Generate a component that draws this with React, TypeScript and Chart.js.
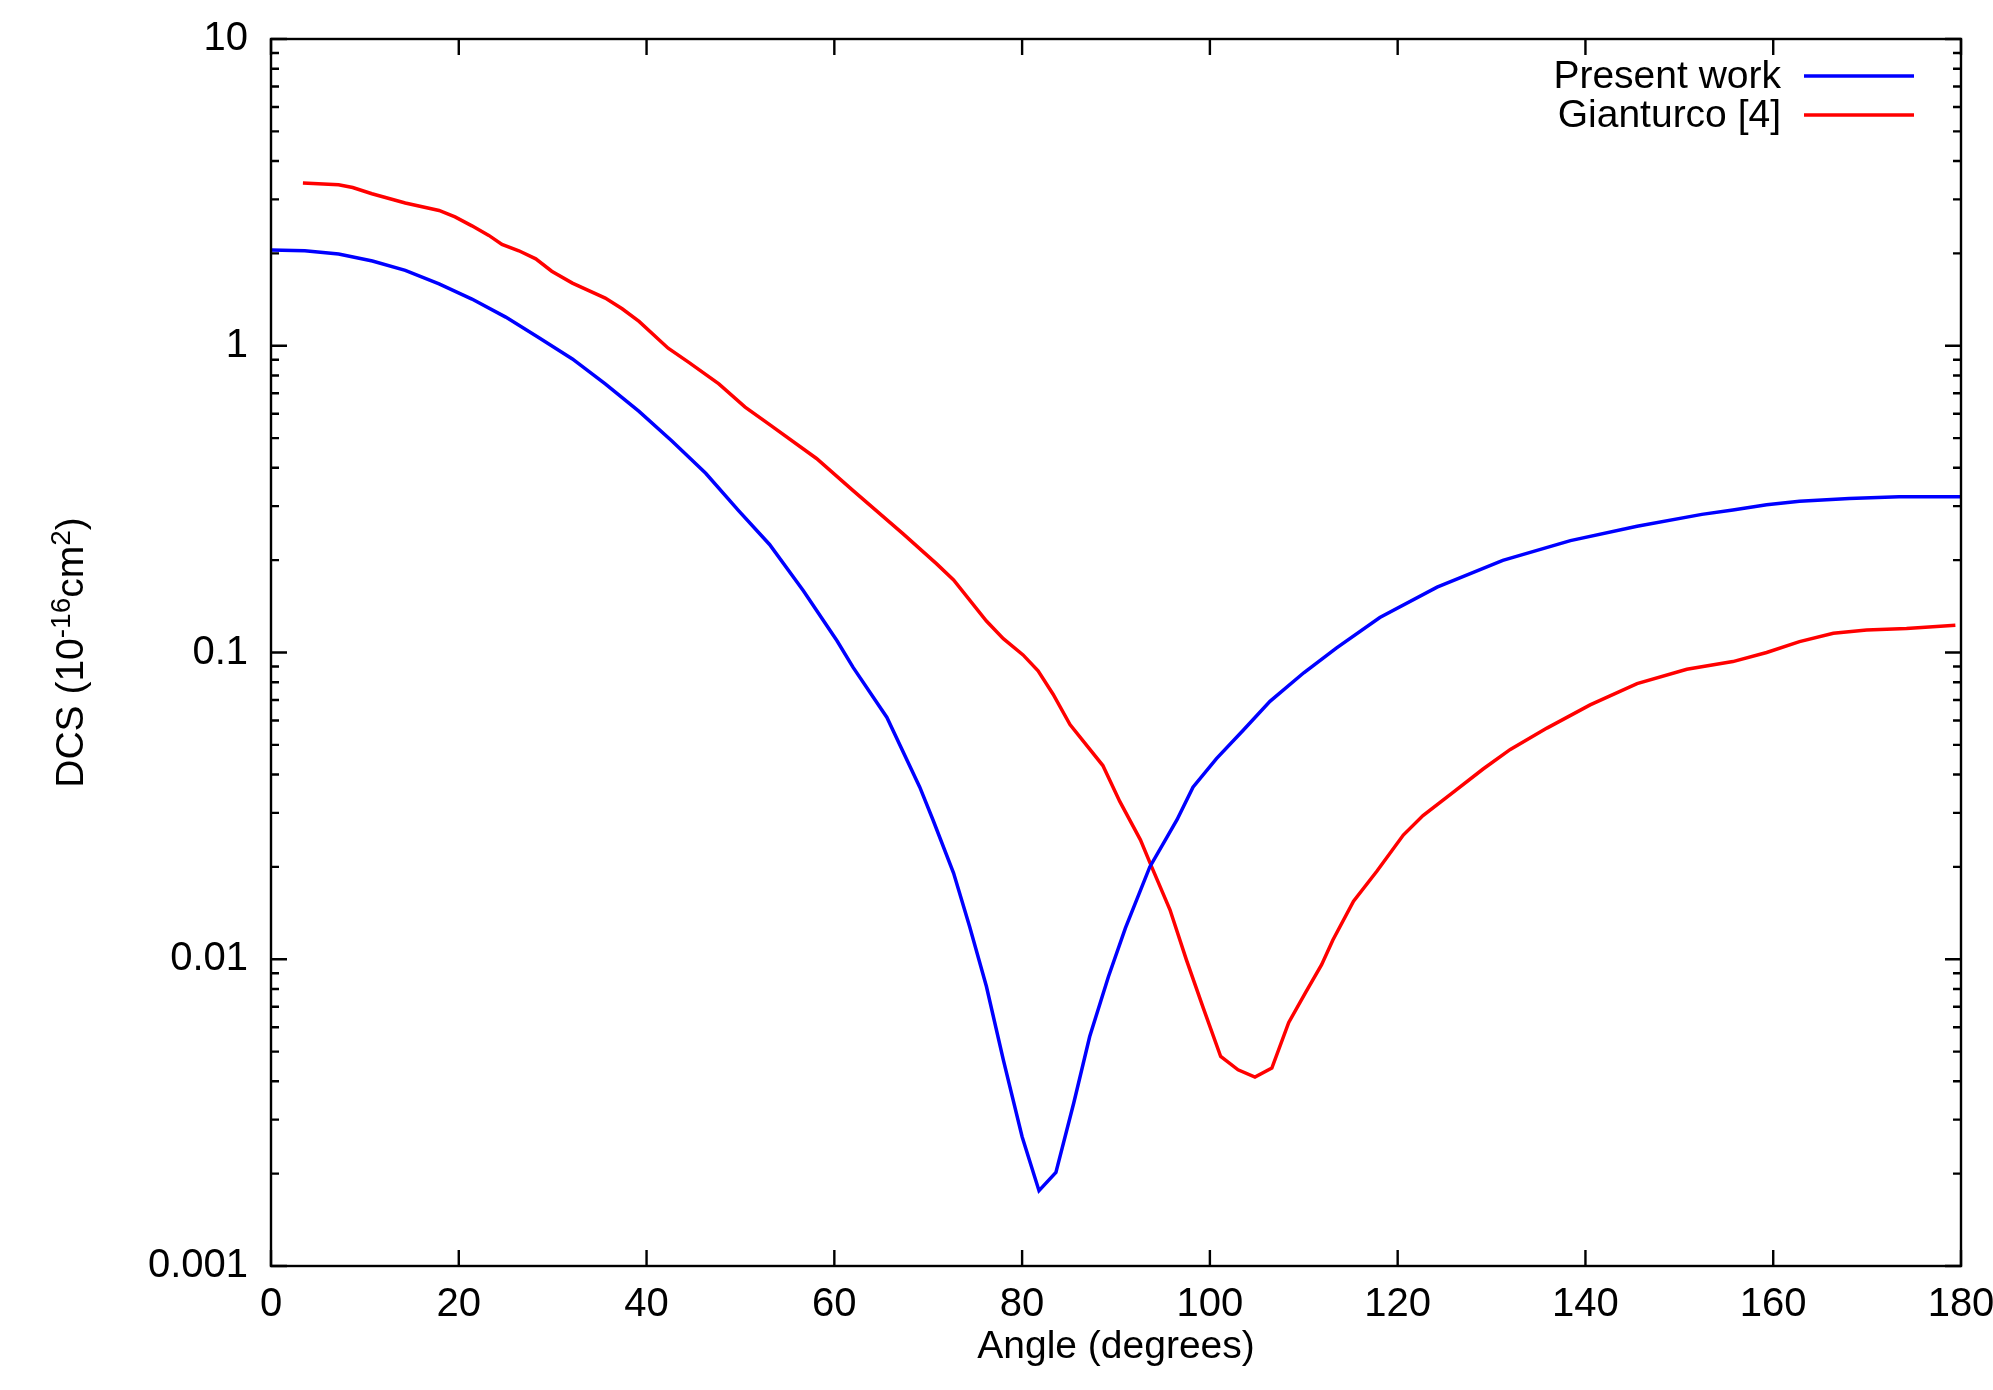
import React, { useEffect, useRef } from "react";
import { Chart, registerables } from "chart.js";

Chart.register(...registerables);

// ---- Data ----
const presentAngles = [
  0, 3.6, 7.2, 10.8, 14.3, 17.9, 21.4, 25.0, 28.5, 32.1, 35.6, 39.2, 42.7, 46.3,
  49.8, 53.1, 56.7, 60.3, 62.0, 65.6, 69.1, 70.5, 72.7, 74.4, 76.2, 78.0, 80.0,
  81.8, 83.6, 85.5, 87.2, 89.2, 91.0, 93.6, 95.4, 96.5, 98.2, 100.7, 103.6,
  106.4, 110.0, 113.5, 118.1, 124.2, 131.2, 138.4, 145.5, 152.4, 155.7, 159.3,
  162.8, 168.1, 173.4, 180,
];
const presentValues = [
  2.05, 2.04, 1.99, 1.89, 1.76, 1.59, 1.42, 1.24, 1.064, 0.906, 0.751, 0.611,
  0.489, 0.384, 0.29, 0.225, 0.159, 0.109, 0.0894, 0.0614, 0.0364, 0.0285,
  0.0191, 0.0128, 0.00815, 0.0047, 0.00264, 0.00176, 0.00202, 0.0034, 0.0056,
  0.00879, 0.01263, 0.02, 0.0249, 0.0285, 0.0364, 0.0451, 0.056, 0.0693,
  0.0859, 0.1036, 0.1301, 0.1634, 0.1998, 0.2316, 0.2578, 0.282, 0.2916, 0.303,
  0.311, 0.318, 0.322, 0.322,
];

const gianturcoAngles = [
  3.4, 7.2, 8.7, 10.75, 14.3, 17.9, 19.6, 21.4, 23.2, 24.6, 26.4, 28.2, 29.9,
  32.1, 35.6, 37.4, 39.2, 42.3, 44.5, 47.7, 50.5, 53.0, 58.1, 62.0, 67.3, 70.9,
  72.7, 76.2, 78.0, 80.1, 81.7, 83.3, 85.1, 88.6, 90.4, 92.6, 93.8, 95.75, 97.5,
  99.3, 101.15, 103.0, 104.8, 106.6, 108.4, 110.2, 111.9, 113.1, 115.3, 117.8,
  120.6, 122.7, 125.9, 129.1, 132.0, 135.9, 140.5, 145.5, 150.8, 155.7, 159.3,
  162.8, 166.4, 169.95, 174.2, 179.4,
];
const gianturcoValues = [
  3.39, 3.35, 3.28, 3.13, 2.92, 2.76, 2.63, 2.46, 2.29, 2.14, 2.04, 1.92, 1.75,
  1.6, 1.43, 1.32, 1.2, 0.982, 0.883, 0.751, 0.631, 0.556, 0.429, 0.337, 0.244,
  0.1945, 0.1724, 0.1266, 0.1109, 0.0982, 0.0871, 0.0731, 0.0582, 0.0428,
  0.0327, 0.0245, 0.02, 0.0145, 0.00995, 0.00693, 0.00482, 0.00436, 0.00413,
  0.00442, 0.00622, 0.0078, 0.0096, 0.01156, 0.01545, 0.0194, 0.0254, 0.0294,
  0.035, 0.0417, 0.0483, 0.0567, 0.0675, 0.0792, 0.0882, 0.0934, 0.1, 0.1085,
  0.1156, 0.1185, 0.1198, 0.1228,
];

const seriesLabels = ["Present work", "Gianturco [4]"];
const seriesColors = ["#0000ff", "#ff0000"];

const xTickValues = [0, 20, 40, 60, 80, 100, 120, 140, 160, 180];
const yTickValues = [0.001, 0.01, 0.1, 1, 10];
const xTitle = "Angle (degrees)";
const yTitleParts = [
  { text: "DCS (10", sup: false },
  { text: "-16", sup: true },
  { text: "cm", sup: false },
  { text: "2", sup: true },
  { text: ")", sup: false },
];

const FONT = "'Liberation Sans', Arial, Helvetica, sans-serif";
const TICK_FS = 40;
const LEGEND_FS = 39;
const TITLE_FS = 39;
const SUP_FS = 28;

const framePlugin = {
  id: "frameTicks",
  afterDatasetsDraw(chart: any) {
    const { ctx, chartArea, scales } = chart;
    const { left, right, top, bottom } = chartArea;
    const x = scales.x;
    const y = scales.y;
    ctx.save();
    ctx.strokeStyle = "#000";
    ctx.lineWidth = 2.4;
    ctx.beginPath();
    for (const v of xTickValues) {
      const px = x.getPixelForValue(v);
      ctx.moveTo(px, bottom);
      ctx.lineTo(px, bottom - 16);
      ctx.moveTo(px, top);
      ctx.lineTo(px, top + 16);
    }
    for (let i = 0; i < yTickValues.length; i++) {
      const d = yTickValues[i];
      const py = y.getPixelForValue(d);
      ctx.moveTo(left, py);
      ctx.lineTo(left + 16, py);
      ctx.moveTo(right, py);
      ctx.lineTo(right - 16, py);
      if (i < yTickValues.length - 1) {
        for (let k = 2; k <= 9; k++) {
          const pm = y.getPixelForValue(d * k);
          ctx.moveTo(left, pm);
          ctx.lineTo(left + 8, pm);
          ctx.moveTo(right, pm);
          ctx.lineTo(right - 8, pm);
        }
      }
    }
    ctx.stroke();
    ctx.strokeRect(left, top, right - left, bottom - top);
    ctx.restore();
  },
  afterDraw(chart: any) {
    const { ctx, chartArea } = chart;
    const { right, top, bottom } = chartArea;
    ctx.save();
    // legend
    ctx.font = `${LEGEND_FS}px ${FONT}`;
    ctx.textAlign = "right";
    ctx.textBaseline = "middle";
    chart.data.datasets.forEach((ds: any, i: number) => {
      const ly = top + 37 + i * 39;
      ctx.fillStyle = "#000";
      ctx.fillText(ds.label, right - 180, ly + 1);
      ctx.strokeStyle = ds.borderColor;
      ctx.lineWidth = 3.5;
      ctx.beginPath();
      ctx.moveTo(right - 157, ly);
      ctx.lineTo(right - 47, ly);
      ctx.stroke();
    });
    // y axis title with superscripts
    const cy = (top + bottom) / 2;
    const bx = 83;
    let total = 0;
    for (const p of yTitleParts) {
      ctx.font = `${p.sup ? SUP_FS : TITLE_FS}px ${FONT}`;
      total += ctx.measureText(p.text).width;
    }
    ctx.translate(bx, cy);
    ctx.rotate(-Math.PI / 2);
    ctx.textAlign = "left";
    ctx.textBaseline = "alphabetic";
    ctx.fillStyle = "#000";
    let cx = -total / 2;
    for (const p of yTitleParts) {
      ctx.font = `${p.sup ? SUP_FS : TITLE_FS}px ${FONT}`;
      ctx.fillText(p.text, cx, p.sup ? -13 : 0);
      cx += ctx.measureText(p.text).width;
    }
    ctx.restore();
  },
};

export default function App() {
  const canvasRef = useRef<HTMLCanvasElement | null>(null);

  useEffect(() => {
    const canvas = canvasRef.current;
    if (!canvas) return;
    const chart = new Chart(canvas, {
      type: "line",
      data: {
        datasets: [
          {
            label: seriesLabels[0],
            data: presentAngles.map((a, i) => ({ x: a, y: presentValues[i] })),
            borderColor: seriesColors[0],
            backgroundColor: seriesColors[0],
            borderWidth: 3.5,
            pointRadius: 0,
            tension: 0,
            fill: false,
          },
          {
            label: seriesLabels[1],
            data: gianturcoAngles.map((a, i) => ({ x: a, y: gianturcoValues[i] })),
            borderColor: seriesColors[1],
            backgroundColor: seriesColors[1],
            borderWidth: 3.5,
            pointRadius: 0,
            tension: 0,
            fill: false,
          },
        ],
      },
      options: {
        animation: false,
        responsive: false,
        devicePixelRatio: 1,
        events: [],
        layout: { padding: { left: 0, top: 39, right: 32, bottom: 0 } },
        plugins: {
          legend: { display: false },
          tooltip: { enabled: false },
          title: { display: false },
        },
        scales: {
          x: {
            type: "linear",
            min: 0,
            max: 180,
            grid: { display: false, drawTicks: false, tickLength: 0 },
            border: { display: false },
            afterBuildTicks: (scale: any) => {
              scale.ticks = xTickValues.map((v) => ({ value: v }));
            },
            afterFit: (scale: any) => {
              scale.height = 124;
              scale.paddingLeft = 0;
              scale.paddingRight = 0;
            },
            ticks: {
              color: "#000",
              font: { family: FONT, size: TICK_FS },
              padding: 15,
              maxRotation: 0,
              autoSkip: false,
              callback: (v: any) => String(v),
            },
            title: {
              display: true,
              text: xTitle,
              color: "#000",
              font: { family: FONT, size: TITLE_FS },
              padding: { top: 0, bottom: 19 },
            },
          },
          y: {
            type: "logarithmic",
            min: 0.001,
            max: 10,
            grid: { display: false, drawTicks: false, tickLength: 0 },
            border: { display: false },
            afterBuildTicks: (scale: any) => {
              scale.ticks = yTickValues.map((v) => ({ value: v }));
            },
            afterFit: (scale: any) => {
              scale.width = 271;
              scale.paddingTop = 0;
              scale.paddingBottom = 0;
            },
            ticks: {
              color: "#000",
              font: { family: FONT, size: TICK_FS },
              padding: 23,
              autoSkip: false,
              callback: (v: any) => String(v),
            },
            title: { display: false },
          },
        },
      },
      plugins: [framePlugin],
    });
    return () => chart.destroy();
  }, []);

  return (
    <div style={{ position: "absolute", left: 0, top: 0, width: 1993, height: 1390, background: "#fff" }}>
      <canvas ref={canvasRef} width={1993} height={1390} style={{ display: "block", width: 1993, height: 1390 }} />
    </div>
  );
}
